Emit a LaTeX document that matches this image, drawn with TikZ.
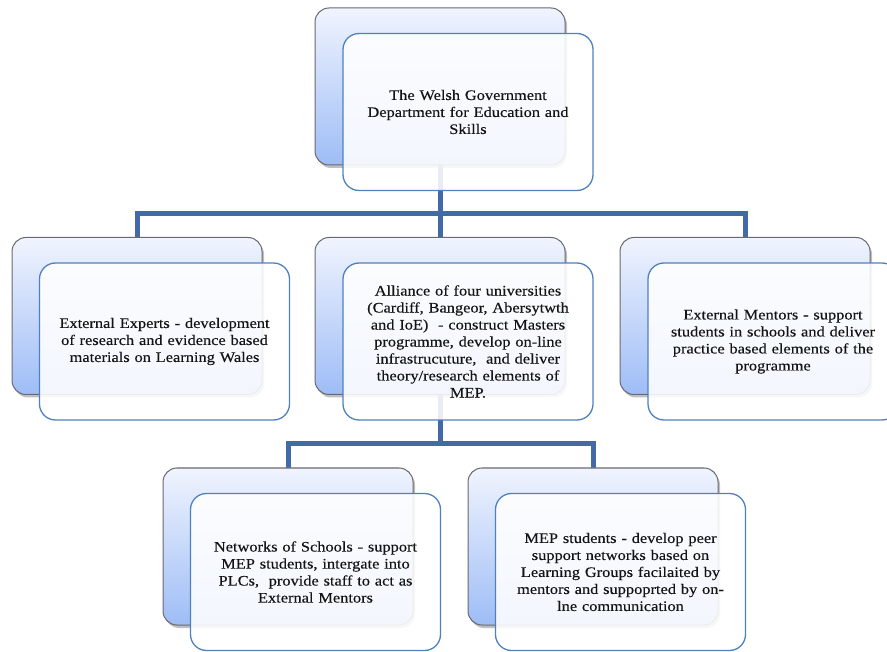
\documentclass[tikz,border=0pt]{standalone}
\usepackage{fontspec}
\setmainfont[FakeStretch=1.13,FakeBold=0.25]{Liberation Serif}
\usetikzlibrary{shadows}
\definecolor{connC}{RGB}{66,106,166}
\definecolor{frontC}{RGB}{79,129,189}
\definecolor{backTop}{RGB}{240,244,254}
\definecolor{backBot}{RGB}{158,189,246}
\definecolor{backLine}{RGB}{105,105,112}
\definecolor{textC}{RGB}{20,20,20}
\tikzset{
  backbox/.style={draw=backLine, line width=1pt, rounded corners=14pt,
    top color=backTop, bottom color=backBot,
    minimum width=250pt, minimum height=157pt, inner sep=0pt,
    drop shadow={opacity=0.5, shadow xshift=2pt, shadow yshift=-3pt}},
  frontbox/.style={draw=frontC, line width=1.3pt, rounded corners=16pt,
    fill=white, fill opacity=0.88, text opacity=1, text=textC,
    minimum width=250pt, minimum height=157pt, inner sep=0pt,
    text width=236pt, align=center, font=\fontsize{14.5}{17}\selectfont},
  anchorbox/.style={minimum width=250pt, minimum height=157pt, inner sep=0pt},
  conn/.style={draw=connC, line width=5pt, line join=miter}
}
\begin{document}
\begin{tikzpicture}[x=1pt,y=-1pt]
\useasboundingbox (0,0) rectangle (887,652);
\coordinate (j1) at (440,214);
\coordinate (j2) at (440,444);
\path
  (440,86.5) coordinate (ctb)
  (137,316) coordinate (clb)
  (440,316) coordinate (cmb)
  (745,316) coordinate (crb)
  (288,546.5) coordinate (csl)
  (593,546.5) coordinate (csr);
\node[anchorbox] (tb) at (ctb) {};
\node[anchorbox] (lb) at (clb) {};
\node[anchorbox] (mb) at (cmb) {};
\node[anchorbox] (rb) at (crb) {};
\node[anchorbox] (sl) at (csl) {};
\node[anchorbox] (sr) at (csr) {};
% connectors
\draw[conn] (tb.south) -- (j1);
\draw[conn] (lb.north) |- (j1) -| (rb.north);
\draw[conn] (j1) -- (mb.north);
\draw[conn] (mb.south) -- (j2);
\draw[conn] (sl.north) |- (j2) -| (sr.north);
% back boxes
\node[backbox] (tbb) at (ctb) {};
\node[backbox] (lbb) at (clb) {};
\node[backbox] (mbb) at (cmb) {};
\node[backbox] (rbb) at (crb) {};
\node[backbox] (slb) at (csl) {};
\node[backbox] (srb) at (csr) {};
% front boxes
\node[frontbox] (tf) at (468,112) {The Welsh Government\\Department for Education and\\Skills};
\node[frontbox] (lf) at (164.5,341.5) {External Experts - development\\of research and evidence based\\materials on Learning Wales};
\node[frontbox] (mf) at (468,341.5) {Alliance of four universities\\(Cardiff, Bangeor, Abersytwth\\and IoE)\ \ - construct Masters\\programme, develop on-line\\infrastrucuture,\ \ and deliver\\theory/research elements of\\MEP.};
\node[frontbox] (rf) at (773,341.5) {External Mentors - support\\students in schools and deliver\\practice based elements of the\\programme};
\node[frontbox] (slf) at (315.5,572) {Networks of Schools - support\\MEP students, intergate into\\PLCs,\ \ provide staff to act as\\External Mentors};
\node[frontbox] (srf) at (620.5,572) {MEP students - develop peer\\support networks based on\\Learning Groups facilaited by\\mentors and suppoprted by on-\\lne communication};
\end{tikzpicture}
\end{document}
